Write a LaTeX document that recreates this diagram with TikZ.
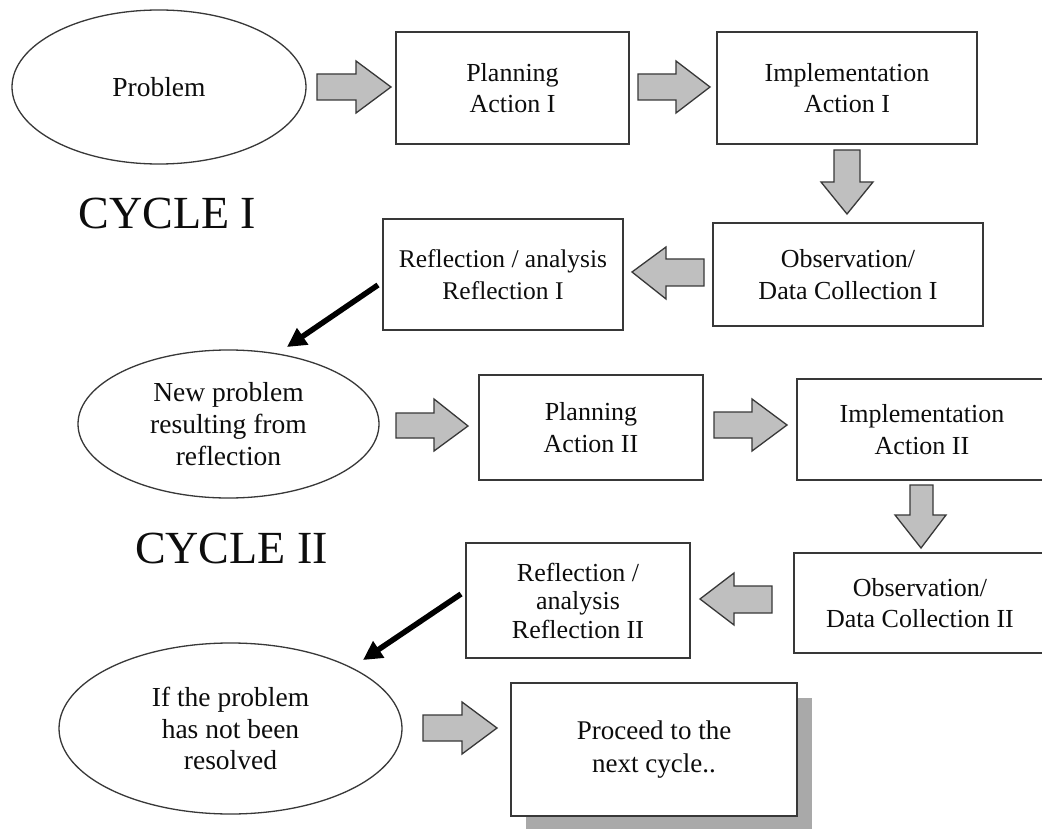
\documentclass[tikz,border=0pt]{standalone}
\usepackage{fontspec}
\setmainfont{Liberation Serif}
\usetikzlibrary{shapes.geometric,arrows.meta}
\definecolor{arrowgray}{HTML}{BFBFBF}
\definecolor{edge}{HTML}{383838}
\definecolor{shadowgray}{HTML}{A9A9A9}
\definecolor{ink}{HTML}{0D0D0D}
\tikzset{
  box/.style={draw=edge, line width=1.8pt, fill=white, rectangle, inner sep=0pt, align=center, text=ink},
  oval/.style={draw=edge, line width=1.3pt, fill=white, ellipse, inner sep=0pt, align=center, text=ink, font=\fontsize{27.5}{31.7}\selectfont},
  barrow/.style={draw=edge, fill=arrowgray, line width=1.3pt, line join=miter},
  thickarrow/.style={line width=5.5pt, draw=black, -{Triangle[length=19pt,width=19pt]}},
  cycletext/.style={font=\fontsize{46}{55}\selectfont, anchor=base, inner sep=0pt, text=ink},
}
\begin{document}
\begin{tikzpicture}[x=1pt, y=-1pt, every node/.append style={font=\fontsize{26}{31.7}\selectfont}]
\useasboundingbox (0,0) rectangle (1042,829);
\clip (0,0) rectangle (1042,829);
\fill[white] (0,0) rectangle (1042,829);

% ---- Cycle I ----
\node[oval, minimum width=294pt, minimum height=154pt] (prob) at (159,87) {Problem};
\node[box, minimum width=233pt, minimum height=112pt] (plan1) at (512.5,88) {Planning\\Action I};
\node[box, minimum width=260pt, minimum height=112pt] (impl1) at (847,88) {Implementation\\Action I};
\node[box, minimum width=270pt, minimum height=103pt] (obs1) at (848,274.5) {Observation/\\Data Collection I};
\node[box, minimum width=240pt, minimum height=111pt, font=\fontsize{25.5}{31.7}\selectfont] (refl1) at (503,274.5) {Reflection / analysis\\Reflection I};
\node[cycletext] (cyc1) at (167.5,229) {CYCLE I};

% block arrows cycle I
\draw[barrow] (317,74) -- (356,74) -- (356,61) -- (391,87) -- (356,113) -- (356,100) -- (317,100) -- cycle;
\draw[barrow] (638,74) -- (676,74) -- (676,61) -- (710,87) -- (676,113) -- (676,100) -- (638,100) -- cycle;
\draw[barrow] (834,150) -- (860,150) -- (860,182) -- (873,182) -- (847,214) -- (821,182) -- (834,182) -- cycle;
\draw[barrow] (704,259) -- (666,259) -- (666,247) -- (632,272) -- (666,299) -- (666,286) -- (704,286) -- cycle;

% ---- Cycle II ----
\node[oval, minimum width=301pt, minimum height=148pt] (newp) at (228.5,424) {New problem\\resulting from\\reflection};
\node[box, minimum width=224.5pt, minimum height=105pt] (plan2) at (591,427.5) {Planning\\Action II};
\node[box, minimum width=250pt, minimum height=101pt] (impl2) at (922,429.5) {Implementation\\Action II};
\node[box, minimum width=252pt, minimum height=100pt] (obs2) at (920,603) {Observation/\\Data Collection II};
\node[box, minimum width=224pt, minimum height=115pt, font=\fontsize{26}{28.5}\selectfont] (refl2) at (578,600.5) {Reflection /\\analysis\\Reflection II};
\node[cycletext] (cyc2) at (231.5,563) {CYCLE II};

\coordinate (b1s) at (378,285);
\coordinate (b1e) at (287,347);
\draw[thickarrow] (b1s) -- (b1e);

% block arrows cycle II
\draw[barrow] (396,413) -- (434,413) -- (434,399) -- (468,426) -- (434,451) -- (434,438) -- (396,438) -- cycle;
\draw[barrow] (714,412) -- (752,412) -- (752,399) -- (787,425) -- (752,451) -- (752,438) -- (714,438) -- cycle;
\draw[barrow] (910,485) -- (933,485) -- (933,515) -- (946,515) -- (921,548) -- (895,515) -- (910,515) -- cycle;
\draw[barrow] (772,586) -- (734,586) -- (734,573) -- (700,599) -- (734,625) -- (734,613) -- (772,613) -- cycle;

% ---- final ----
\node[oval, minimum width=343pt, minimum height=171pt] (ifp) at (230.5,728.5) {If the problem\\has not been\\resolved};
\fill[shadowgray] (526,698) rectangle (812,840);
\node[box, minimum width=286pt, minimum height=133pt, font=\fontsize{27}{33}\selectfont] (proc) at (654,749.5) {Proceed to the\\next cycle..};

\coordinate (b2s) at (461,594);
\coordinate (b2e) at (363,660);
\draw[thickarrow] (b2s) -- (b2e);

\draw[barrow] (423,715) -- (462,715) -- (462,702) -- (497,728) -- (462,754) -- (462,741) -- (423,741) -- cycle;
\end{tikzpicture}
\end{document}
